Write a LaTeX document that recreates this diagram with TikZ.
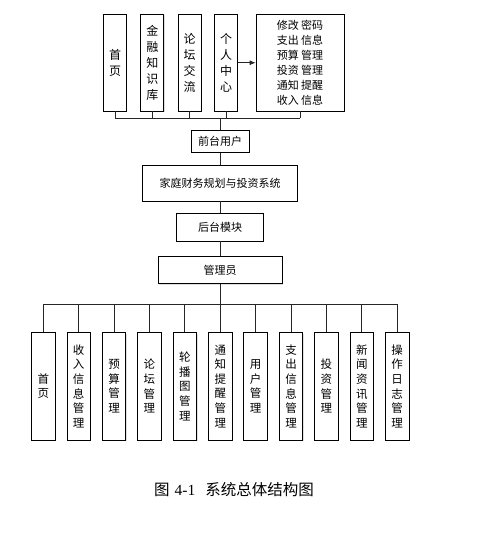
\documentclass[tikz,border=0pt]{standalone}
\usepackage{fontspec}
\setmainfont{Noto Sans CJK SC}
\newfontfamily\timesfont{Liberation Serif}
\usetikzlibrary{arrows.meta,shadows}
\begin{document}
\begin{tikzpicture}[
  x=1pt, y=-1pt,
  box/.style={draw, fill=white, line width=0.8pt, inner sep=0pt, align=center,
    drop shadow={shadow xshift=0.9pt, shadow yshift=-0.9pt, fill=black!25}},
  topbox/.style={box, minimum width=23pt, minimum height=96.5pt, font=\fontsize{12}{16}\selectfont},
  leafbox/.style={box, minimum width=23.5pt, minimum height=107.3pt, font=\fontsize{11.5}{14.6}\selectfont},
  midbox/.style={box, font=\fontsize{11}{13}\selectfont},
  link/.style={draw=black!85, line width=0.8pt}
]
\useasboundingbox (0,0) rectangle (480,540);
\node[topbox] (home) at (115,62.75) {首\\页};
\node[topbox] (finance) at (152.25,62.75) {金\\融\\知\\识\\库};
\node[topbox] (forum) at (189.5,62.75) {论\\坛\\交\\流};
\node[topbox] (personal) at (226,62.75) {个\\人\\中\\心};
\node[box, minimum width=88pt, minimum height=96.5pt, font=\fontsize{11}{15}\selectfont] (funcs) at (300,62.75)
  {修改 密码\\支出 信息\\预算 管理\\投资 管理\\通知 提醒\\收入 信息};
\draw[link, -{Latex[length=6pt,width=5pt]}] (personal) -- (funcs);
\coordinate (topbus) at (220,118);
\foreach \n in {home,finance,forum,personal,funcs}
  \draw[link] (\n.south) -- (\n.south |- topbus);
\draw[link] (home.south |- topbus) -- (funcs.south |- topbus);
\node[midbox, minimum width=58pt, minimum height=22.3pt] (front) at (220,141.2) {前台用户};
\node[midbox, minimum width=155pt, minimum height=35.3pt] (system) at (220,183.4) {家庭财务规划与投资系统};
\node[midbox, minimum width=86.3pt, minimum height=27.3pt] (back) at (220,227.4) {后台模块};
\node[midbox, minimum width=124pt, minimum height=27.4pt] (admin) at (220,270) {管理员};
\draw[link] (topbus) -- (front);
\draw[link] (front) -- (system);
\draw[link] (system) -- (back);
\draw[link] (back) -- (admin);
\coordinate (botbus) at (220,304.3);
\foreach \txt [count=\i] in {{首\\页},{收\\入\\信\\息\\管\\理},{预\\算\\管\\理},{论\\坛\\管\\理},
    {轮\\播\\图\\管\\理},{通\\知\\提\\醒\\管\\理},{用\\户\\管\\理},{支\\出\\信\\息\\管\\理},
    {投\\资\\管\\理},{新\\闻\\资\\讯\\管\\理},{操\\作\\日\\志\\管\\理}} {
  \node[leafbox] (leaf\i) at ({43.3+35.39*(\i-1)},386.3) {\txt};
  \draw[link] (leaf\i.north) -- (leaf\i.north |- botbus);
}
\draw[link] (leaf1.north |- botbus) -- (leaf11.north |- botbus);
\draw[link] (admin) -- (botbus);
\node[font=\fontsize{15.5}{18}\selectfont] (caption) at (234,490)
  {图\hspace{5pt}{\timesfont 4-1}\hspace{10pt}系统总体结构图};
\end{tikzpicture}
\end{document}
